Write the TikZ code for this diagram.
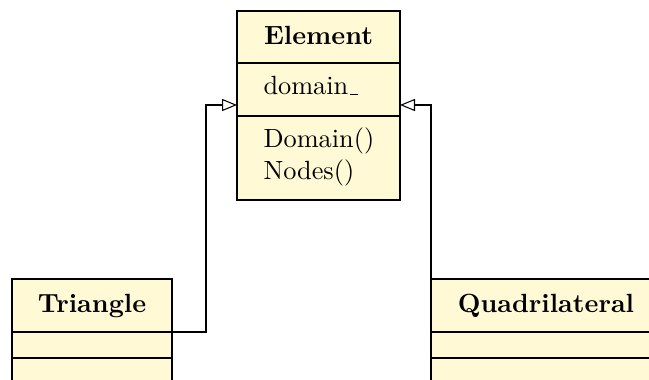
\documentclass[tikz,border=0pt]{standalone}
\usetikzlibrary{arrows.meta}
\definecolor{umlfill}{RGB}{255,249,214}
\newcommand{\shortus}{\leavevmode\kern.06em\vbox{\hrule width.3em}}
\begin{document}
\begin{tikzpicture}[x=0.38pt,y=-0.38pt,
  compart/.style={draw=black,fill=umlfill,line width=0.4pt,anchor=north west,inner sep=0pt,outer sep=0pt},
  lbl/.style={anchor=base west,inner sep=0pt,font=\normalsize},
  ttl/.style={anchor=base,inner sep=0pt,font=\normalsize\bfseries},
  inherit/.style={draw=black,line width=0.4pt,-{Triangle[open,length=5.7pt,width=4.6pt]}}]
\useasboundingbox (0,0) rectangle (649,380);
\clip (0,0) rectangle (649,380);
% Element
\node[compart,minimum width=61.94pt,minimum height=19.76pt] (e1) at (237,11) {};
\node[compart,minimum width=61.94pt,minimum height=20.14pt] (e2) at (237,63) {};
\node[compart,minimum width=61.94pt,minimum height=31.92pt] (e3) at (237,116) {};
\node[ttl] (etitle) at (318.5,45) {Element};
\node[lbl] (eattr) at (263,95) {domain\shortus};
\node[lbl] (eop1) at (263,148) {Domain()};
\node[lbl] (eop2) at (263,180) {Nodes()};
% Triangle
\node[compart,minimum width=60.8pt,minimum height=20.14pt] (t1) at (12,279) {};
\node[compart,minimum width=60.8pt,minimum height=9.88pt] (t2) at (12,332) {};
\node[compart,minimum width=60.8pt,minimum height=12pt] (t3) at (12,358) {};
\node[ttl] (ttitle) at (92,312) {Triangle};
% Quadrilateral
\node[compart,minimum width=87.4pt,minimum height=20.14pt] (q1) at (431,279) {};
\node[compart,minimum width=87.4pt,minimum height=9.88pt] (q2) at (431,332) {};
\node[compart,minimum width=87.4pt,minimum height=12pt] (q3) at (431,358) {};
\node[ttl] (qtitle) at (546,312) {Quadrilateral};
% connectors
\coordinate (tbend) at (206,105);
\coordinate (qbend) at (431,105);
\draw[inherit] (t1.south east) -| (tbend) -- (tbend -| e2.west);
\draw[inherit] (q1.north west) -- (qbend) -- (qbend -| e2.east);
\end{tikzpicture}
\end{document}
